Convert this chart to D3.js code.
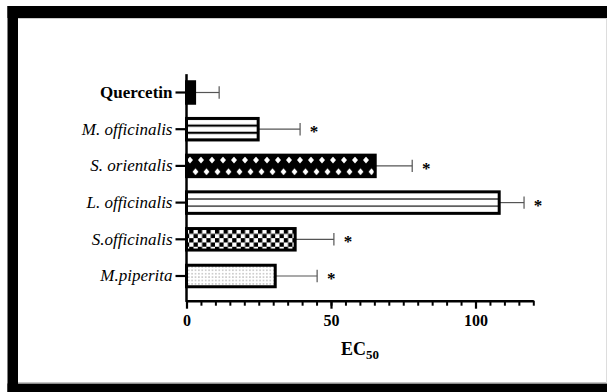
<!DOCTYPE html>
<html>
<head>
<meta charset="utf-8">
<script src="https://cdn.jsdelivr.net/npm/d3@7"></script>
<style>
html,body{margin:0;padding:0;background:#fff;}
svg{display:block;}
svg text{font-family:"Liberation Serif","Times New Roman",Times,serif;}
</style>
</head>
<body>
<script>
// ---- data ----
const categories = ["Quercetin", "M. officinalis", "S. orientalis", "L. officinalis", "S.officinalis", "M.piperita"];
const values = [2.8, 24.8, 65.3, 108.2, 37.6, 30.7];
const errors = [8.5, 14.5, 12.8, 8.6, 13.4, 14.5];
const significant = [false, true, true, true, true, true];
const majorTicks = [0, 50, 100];
const minorTicks = d3.range(0, 121, 5);

const W = 607, H = 392;
const FONT = '"Liberation Serif","Times New Roman",Times,serif';
const svg = d3.select("body").append("svg").attr("width", W).attr("height", H);

// frame
svg.append("rect").attr("x", 0).attr("y", 0).attr("width", W).attr("height", H).attr("fill", "#fff");
svg.append("rect").attr("x", 7.5).attr("y", 6).attr("width", W - 7.5).attr("height", 12).attr("fill", "#000");
svg.append("rect").attr("x", 7.5).attr("y", 6).attr("width", 10.5).attr("height", H - 6).attr("fill", "#000");
svg.append("rect").attr("x", 7.5).attr("y", 383.5).attr("width", W - 7.5).attr("height", 9).attr("fill", "#000");
svg.append("line").attr("x1", 18).attr("x2", W).attr("y1", 18.5).attr("y2", 18.5).attr("stroke", "#ccc").attr("stroke-width", 1);
svg.append("line").attr("x1", 18).attr("x2", W).attr("y1", 382.8).attr("y2", 382.8).attr("stroke", "#aaa").attr("stroke-width", 1);
svg.append("line").attr("x1", 606.5).attr("x2", 606.5).attr("y1", 18).attr("y2", 383).attr("stroke", "#ddd").attr("stroke-width", 1);

// scales
const x = d3.scaleLinear().domain([0, 120]).range([186.5, 533.3]);
const y = d3.scaleBand().domain(categories).range([74.15, 294.35]).paddingInner(0.414).paddingOuter(0.207);
const xAxisY = 300.7;
const bw = y.bandwidth();

// patterns
const defs = svg.append("defs");
function hStripe(id, cat, thick, color) {
  const h = bw / 3;
  const p = defs.append("pattern").attr("id", id).attr("patternUnits", "userSpaceOnUse")
    .attr("width", 10).attr("height", h)
    .attr("patternTransform", `translate(0,${y(cat) + h / 2})`);
  p.append("rect").attr("width", 10).attr("height", h).attr("fill", "#fff");
  p.append("rect").attr("y", h / 2 - thick / 2).attr("width", 10).attr("height", thick).attr("fill", color);
}
hStripe("p-moff", categories[1], 2.2, "#000");
hStripe("p-loff", categories[3], 1.4, "#333");

// diamonds
(function () {
  const cat = categories[2];
  const w = 11, h = 23.4;
  const p = defs.append("pattern").attr("id", "p-sor").attr("patternUnits", "userSpaceOnUse")
    .attr("width", w).attr("height", h)
    .attr("patternTransform", `translate(3,${y(cat) + bw / 2 - 5.85})`);
  p.append("rect").attr("width", w).attr("height", h).attr("fill", "#000");
  const dia = (cx, cy) => `M${cx - 3},${cy} L${cx},${cy - 3.3} L${cx + 3},${cy} L${cx},${cy + 3.3} Z`;
  [[0, 0], [w, 0], [0, h], [w, h], [w / 2, h / 2]].forEach(([cx, cy]) =>
    p.append("path").attr("d", dia(cx, cy)).attr("fill", "#fff"));
})();

// checker
(function () {
  const cat = categories[4];
  const c = 4.3;
  const p = defs.append("pattern").attr("id", "p-soff").attr("patternUnits", "userSpaceOnUse")
    .attr("width", 2 * c).attr("height", 2 * c)
    .attr("patternTransform", `translate(0,${y(cat) + 1})`);
  p.append("rect").attr("width", 2 * c).attr("height", 2 * c).attr("fill", "#fff");
  p.append("rect").attr("width", c).attr("height", c).attr("fill", "#000");
  p.append("rect").attr("x", c).attr("y", c).attr("width", c).attr("height", c).attr("fill", "#000");
})();

// dots
(function () {
  const p = defs.append("pattern").attr("id", "p-mpip").attr("patternUnits", "userSpaceOnUse")
    .attr("width", 3.4).attr("height", 3.4);
  p.append("rect").attr("width", 3.4).attr("height", 3.4).attr("fill", "#fff");
  p.append("circle").attr("cx", 1.7).attr("cy", 1.7).attr("r", 0.6).attr("fill", "#777");
})();

const fills = ["#000", "url(#p-moff)", "url(#p-sor)", "url(#p-loff)", "url(#p-soff)", "url(#p-mpip)"];

// error bars
const eg = svg.append("g");
categories.forEach((c, i) => {
  const cy = y(c) + bw / 2;
  eg.append("line").attr("x1", x(values[i])).attr("x2", x(values[i] + errors[i]))
    .attr("y1", cy).attr("y2", cy).attr("stroke", "#555").attr("stroke-width", 1.2);
  eg.append("line").attr("x1", x(values[i] + errors[i])).attr("x2", x(values[i] + errors[i]))
    .attr("y1", cy - 6.2).attr("y2", cy + 6.2).attr("stroke", "#555").attr("stroke-width", 1.2);
});

// bars
svg.append("g").selectAll("rect").data(categories).join("rect")
  .attr("x", x(0))
  .attr("y", d => y(d))
  .attr("width", (d, i) => x(values[i]) - x(0))
  .attr("height", bw)
  .attr("fill", (d, i) => fills[i])
  .attr("stroke", "#000")
  .attr("stroke-width", 3);

// stars
svg.append("g").selectAll("text").data(categories.filter((d, i) => significant[i])).join("text")
  .attr("x", d => { const i = categories.indexOf(d); return x(values[i] + errors[i]) + 14; })
  .attr("y", d => y(d) + bw / 2 + 8)
  .attr("text-anchor", "middle")
  .style("font-family", FONT)
  .attr("font-size", 17)
  .attr("font-weight", "bold")
  .attr("fill", "#000")
  .text("*");

// y axis
const yAxis = svg.append("g").attr("transform", `translate(${x(0)},0)`)
  .call(d3.axisLeft(y).tickSize(11).tickPadding(3).tickSizeOuter(0));
yAxis.attr("font-family", null);
yAxis.select(".domain").remove();
yAxis.selectAll(".tick line").attr("stroke", "#000").attr("stroke-width", 2.2);
yAxis.selectAll(".tick text")
  .style("font-family", FONT)
  .attr("font-size", 17)
  .attr("fill", "#000")
  .attr("font-style", d => d === "Quercetin" ? "normal" : "italic")
  .attr("font-weight", d => d === "Quercetin" ? "bold" : "normal");
svg.append("line").attr("x1", x(0)).attr("x2", x(0)).attr("y1", y.range()[0]).attr("y2", xAxisY + 1.2)
  .attr("stroke", "#000").attr("stroke-width", 2.5);

// x axis minor ticks
svg.append("g").attr("transform", `translate(0,${xAxisY})`)
  .call(d3.axisBottom(x).tickValues(minorTicks).tickSize(5).tickFormat("").tickSizeOuter(0))
  .call(g => g.select(".domain").remove())
  .call(g => g.selectAll(".tick line").attr("stroke", "#000").attr("stroke-width", 2));
// x axis major
const xAxis = svg.append("g").attr("transform", `translate(0,${xAxisY})`)
  .call(d3.axisBottom(x).tickValues(majorTicks).tickSize(8).tickPadding(6).tickSizeOuter(0));
xAxis.attr("font-family", null);
xAxis.select(".domain").attr("stroke", "#000").attr("stroke-width", 2.5);
xAxis.selectAll(".tick line").attr("stroke", "#000").attr("stroke-width", 2.2);
xAxis.selectAll(".tick text")
  .style("font-family", FONT)
  .attr("font-size", 16)
  .attr("font-weight", "bold")
  .attr("fill", "#000");

// x label
const lbl = svg.append("text")
  .attr("x", 360).attr("y", 355)
  .attr("text-anchor", "middle")
  .style("font-family", FONT)
  .attr("font-weight", "bold")
  .attr("font-size", 18)
  .attr("fill", "#000");
lbl.append("tspan").text("EC");
lbl.append("tspan").attr("font-size", 13).attr("dy", 4).text("50");
</script>
</body>
</html>
